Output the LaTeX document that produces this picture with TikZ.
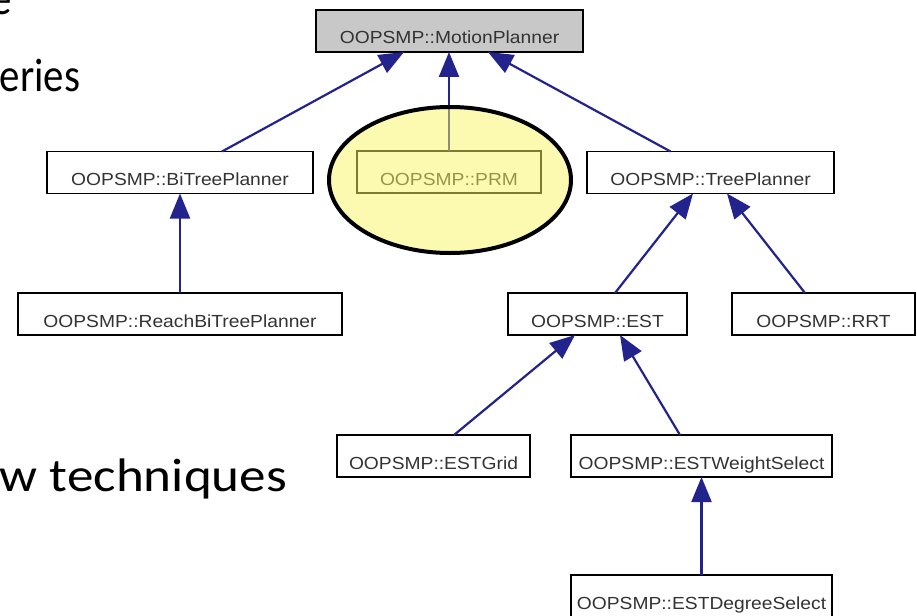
\documentclass[tikz,border=0pt]{standalone}
\usepackage{fontspec}
\usetikzlibrary{arrows.meta,calc}
\newfontfamily\boxfont[FakeStretch=1.1]{Liberation Sans}
\newfontfamily\slidefont[FakeStretch=1.13]{Carlito}
\newfontfamily\slidefontnarrow[FakeStretch=0.87]{Carlito}
\definecolor{edgeblue}{HTML}{23238E}
\definecolor{boxtext}{HTML}{333333}
\definecolor{basegray}{HTML}{C8C8C8}
\definecolor{hlyellow}{RGB}{250,246,100}
\tikzset{
  classbox/.style={draw=black, line width=1.8pt, inner sep=0pt, outer sep=0pt,
    minimum height=42pt, text height=26pt, text depth=0pt, text=boxtext,
    font=\boxfont\fontsize{17.5}{20}\selectfont},
  edge/.style={draw=edgeblue, line width=2.2pt,
    -{Triangle[length=25pt,width=20pt]}},
  slidetext/.style={inner sep=0pt, outer sep=0pt, text=black,
    font=\slidefont\fontsize{47}{56}\selectfont},
  slidetextnarrow/.style={inner sep=0pt, outer sep=0pt, text=black,
    font=\slidefontnarrow\fontsize{47}{56}\selectfont},
  highlight/.style={draw=black, line width=4pt, fill=hlyellow, fill opacity=0.5}
}
\begin{document}
\begin{tikzpicture}[x=1pt,y=-1pt]
\useasboundingbox (0,0) rectangle (917,615);
\fill[white] (0,0) rectangle (917,615);
\clip (0,0) rectangle (917,615);

% slide text behind the diagram
\node[slidetextnarrow, anchor=base east] (s1) at (12,15) {e};
\node[slidetextnarrow, anchor=base east] (s2) at (80,92) {eries};
\node[slidetext, anchor=base east] (s3) at (287,491) {w techniques};

% classes
\node[classbox, fill=basegray, minimum width=267pt] (mp) at (449.5,31) {OOPSMP::MotionPlanner};
\node[classbox, minimum width=266pt] (bt) at (180,172.5) {OOPSMP::BiTreePlanner};
\node[classbox, minimum width=184pt] (prm) at (449,172) {OOPSMP::PRM};
\node[classbox, minimum width=247pt] (tree) at (710.5,172.5) {OOPSMP::TreePlanner};
\node[classbox, minimum width=324pt] (rbt) at (180,314) {OOPSMP::ReachBiTreePlanner};
\node[classbox, minimum width=179pt] (est) at (597.5,314) {OOPSMP::EST};
\node[classbox, minimum width=183pt] (rrt) at (823.5,314) {OOPSMP::RRT};
\node[classbox, minimum width=193pt] (grid) at (433.5,456) {OOPSMP::ESTGrid};
\node[classbox, minimum width=261pt] (ws) at (701.5,456) {OOPSMP::ESTWeightSelect};
\node[classbox, minimum width=261pt] (ds) at (701.5,596) {OOPSMP::ESTDegreeSelect};

% inheritance edges
\draw[edge] ($(bt.north)+(42,0)$) -- ($(mp.south)+(-45.5,0)$);
\draw[edge] (prm.north) -- (prm.north |- mp.south);
\draw[edge] ($(tree.north)+(-40,0)$) -- ($(mp.south)+(38.5,0)$);
\draw[edge] (rbt.north) -- (bt.south);
\draw[edge] ($(est.north)+(17.5,0)$) -- ($(tree.south)+(-17.5,0)$);
\draw[edge] ($(rrt.north)+(-18.5,0)$) -- ($(tree.south)+(16.5,0)$);
\draw[edge] ($(grid.north)+(20.5,0)$) -- ($(est.south)+(-22.5,0)$);
\draw[edge] ($(ws.north)+(-21.5,0)$) -- ($(est.south)+(22.5,0)$);
\draw[edge] (ds.north) -- (ws.south);

% highlight ellipse over PRM
\draw[highlight] (450,180) ellipse [x radius=121pt, y radius=73pt];
\end{tikzpicture}
\end{document}
